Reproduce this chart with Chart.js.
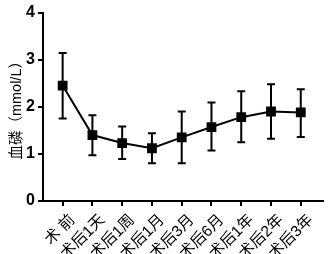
<!DOCTYPE html>
<html>
<head>
<meta charset="utf-8">
<script src="https://cdn.jsdelivr.net/npm/chart.js@4"></script>
<style>
  html, body { margin: 0; padding: 0; background: #fff; }
  #wrap { width: 330px; height: 254px; }
</style>
</head>
<body>
<div id="wrap"><canvas id="chart"></canvas></div>
<script>
const labels = ['术 前', '术后1天', '术后1周', '术后1月', '术后3月', '术后6月', '术后1年', '术后2年', '术后3年'];
const means = [2.45, 1.40, 1.23, 1.12, 1.35, 1.57, 1.78, 1.90, 1.88];
const upper = [3.14, 1.82, 1.58, 1.44, 1.90, 2.09, 2.33, 2.48, 2.37];
const lower = [1.75, 0.97, 0.89, 0.80, 0.80, 1.07, 1.25, 1.32, 1.36];
const yTicks = [0, 1, 2, 3, 4];

const fontFamily = '"Liberation Sans", Arial, "Noto Sans CJK SC", sans-serif';

// error bars drawn through the chart's own scales
const errorBars = {
    id: 'errorBars',
    beforeDatasetsDraw(chart) {
        const { ctx, scales: { x, y } } = chart;
        ctx.save();
        ctx.strokeStyle = '#000';
        ctx.lineWidth = 2;
        means.forEach((m, i) => {
            const px = x.getPixelForValue(i);
            const top = y.getPixelForValue(upper[i]);
            const bot = y.getPixelForValue(lower[i]);
            ctx.beginPath();
            ctx.moveTo(px, top); ctx.lineTo(px, bot);
            ctx.moveTo(px - 4, top); ctx.lineTo(px + 4, top);
            ctx.moveTo(px - 4, bot); ctx.lineTo(px + 4, bot);
            ctx.stroke();
        });
        ctx.restore();
    }
};

new Chart(document.getElementById('chart'), {
    type: 'line',
    data: {
        datasets: [{
            data: means.map((v, i) => ({ x: i, y: v })),
            borderColor: '#000',
            backgroundColor: '#000',
            borderWidth: 2,
            pointStyle: 'rect',
            pointRadius: 5.5,
            pointHoverRadius: 5.5,
            tension: 0
        }]
    },
    options: {
        responsive: true,
        maintainAspectRatio: false,
        animation: false,
        layout: { padding: { top: 5, right: 3, left: 0, bottom: 0 } },
        plugins: { legend: { display: false }, tooltip: { enabled: false } },
        scales: {
            x: {
                type: 'linear',
                min: -0.66,
                max: 8.73,
                afterBuildTicks: s => { s.ticks = labels.map((_, i) => ({ value: i })); },
                afterFit: s => { s.height = 53; },
                border: { color: '#000', width: 2 },
                grid: { drawOnChartArea: false, drawTicks: true, tickLength: 5, color: '#000', lineWidth: 2 },
                ticks: {
                    color: '#000',
                    autoSkip: false,
                    maxRotation: 45,
                    minRotation: 45,
                    padding: 5,
                    labelOffset: 10,
                    font: { family: fontFamily, size: 15.5 },
                    callback: v => labels[v]
                }
            },
            y: {
                min: 0,
                max: 4,
                afterBuildTicks: s => { s.ticks = yTicks.map(v => ({ value: v })); },
                afterFit: s => { s.width = 43; },
                border: { color: '#000', width: 2 },
                grid: { drawOnChartArea: false, drawTicks: true, tickLength: 5, color: '#000', lineWidth: 2 },
                ticks: {
                    color: '#000',
                    padding: 3,
                    font: { family: fontFamily, size: 16, weight: 'bold' }
                },
                title: {
                    display: true,
                    text: '血磷（mmol/L）',
                    color: '#000',
                    padding: { top: 8, bottom: 0 },
                    font: { family: fontFamily, size: 14.5 }
                }
            }
        }
    },
    plugins: [errorBars]
});
</script>
</body>
</html>
